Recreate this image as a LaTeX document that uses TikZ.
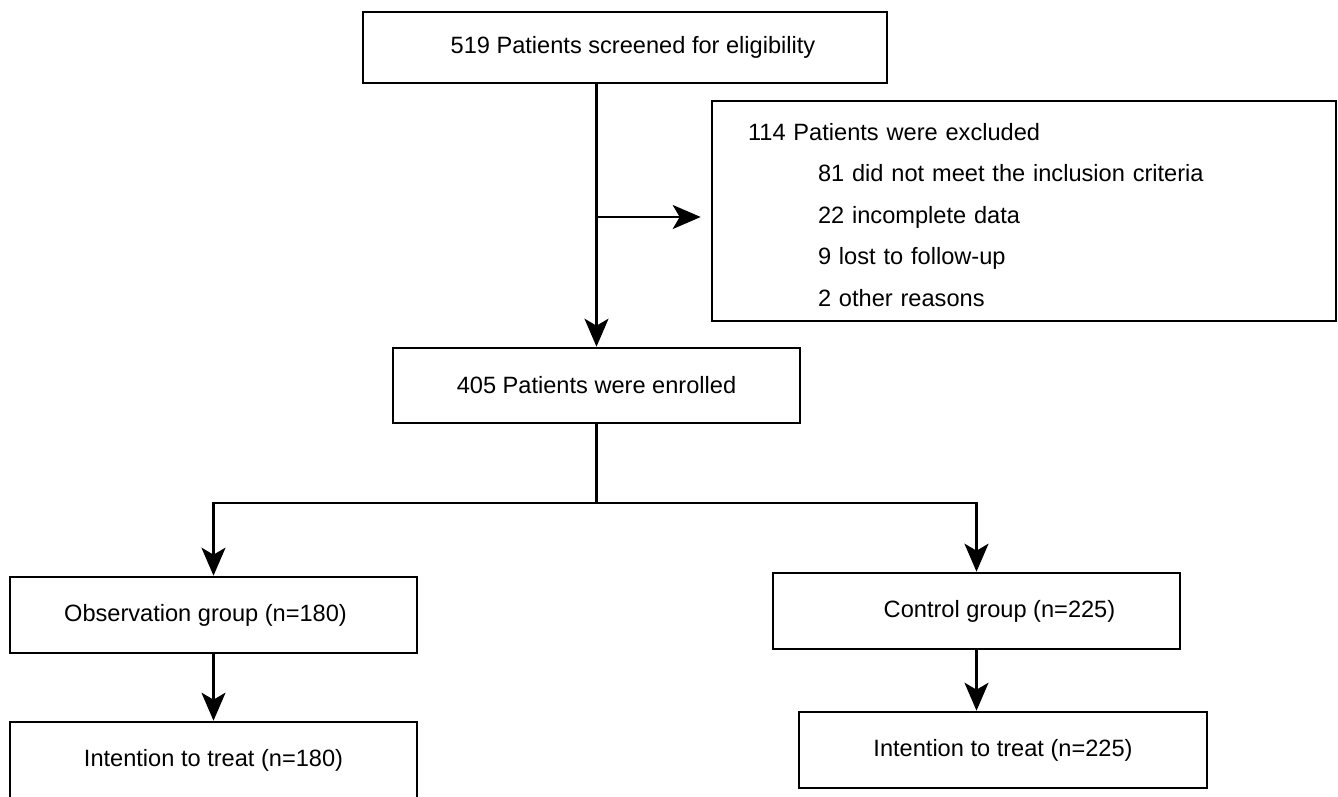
\documentclass[tikz,border=0pt]{standalone}
\usepackage{tikz}
\usepackage{xcolor}
\usepackage{fontspec}
\setmainfont{Liberation Sans}
\usetikzlibrary{calc,arrows.meta}

\tikzset{
  flowbox/.style={draw=black, line width=1.3pt, rectangle, inner sep=0pt,
    minimum width=203.5pt, minimum height=38pt,
    font=\fontsize{11.8}{14}\selectfont},
  flowline/.style={draw=black, line width=1.3pt},
  flowarrow/.style={flowline, -{Stealth[length=14pt,width=12pt,inset=3.5pt]}}
}

\begin{document}
\begin{tikzpicture}[x=0.5pt,y=-0.5pt]

\useasboundingbox (0,0) rectangle (1338,797);

% Screening
\node[flowbox, minimum width=262pt, minimum height=35.5pt] (screen) at (625,47.5)
  {\hspace*{8pt}519 Patients screened for eligibility};

% Exclusions
\node[flowbox, minimum width=312pt, minimum height=110pt, text width=276pt,
  align=left, font=\fontsize{11.8}{20.8}\selectfont] (excl) at (1024,211)
  {\rule{0pt}{12.5pt}114 Patients were excluded\\
   \hspace*{35pt}81 did not meet the inclusion criteria\\
   \hspace*{35pt}22 incomplete data\\
   \hspace*{35pt}9 lost to follow-up\\
   \hspace*{35pt}2 other reasons};

% Enrolment
\node[flowbox, minimum height=37.5pt] (enrol) at (596.5,385.5)
  {405 Patients were enrolled};

% Groups
\node[flowbox] (obs) at (213.5,615) {Observation group (n=180)\hspace*{8pt}};
\node[flowbox] (ctrl) at (976.5,611) {\hspace*{23pt}Control group (n=225)};

% Analysis
\node[flowbox] (itt1) at (213.5,760) {Intention to treat (n=180)};
\node[flowbox, minimum width=204pt] (itt2) at (1003,750) {Intention to treat (n=225)};

% Connectors
\draw[flowarrow] (screen.south -| enrol.north) -- (enrol.north);
\coordinate (branch) at (enrol.north |- 0,217);
\draw[flowarrow, shorten >=5pt] (branch) -- (branch -| excl.west);

\coordinate (split) at (enrol.south |- 0,503);
\draw[flowline] (enrol.south) -- (split);
\draw[flowarrow] (split) -| (obs.north);
\draw[flowarrow] (split) -| (ctrl.north);

\draw[flowarrow] (obs.south) -- (itt1.north);
\draw[flowarrow] (ctrl.south) -- (ctrl.south |- itt2.north);

\end{tikzpicture}
\end{document}
